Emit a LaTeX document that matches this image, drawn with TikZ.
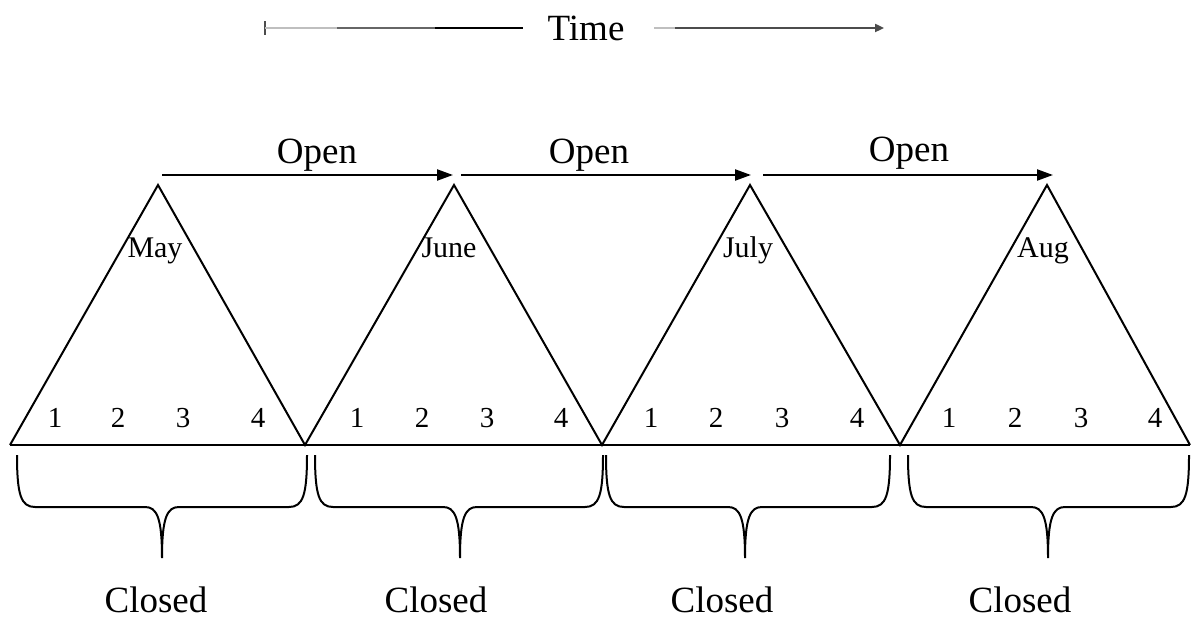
\documentclass[tikz,border=0pt]{standalone}
\usepackage{fontspec}
\setmainfont{Liberation Serif}
\usetikzlibrary{arrows.meta}
\begin{document}
\begin{tikzpicture}[x=1pt,y=-1pt,
  line/.style={line width=2pt},
  bracestyle/.style={line width=2pt},
  timeline/.style={line width=2.6pt},
  big/.style={font=\fontsize{37}{40}\selectfont, inner sep=0pt},
  small/.style={font=\fontsize{30}{32}\selectfont, inner sep=0pt},
  digit/.style={font=\fontsize{29}{32}\selectfont, inner sep=0pt},
  openarrow/.style={line width=2.2pt,-{Triangle[length=16pt,width=11pt]}},
]
\useasboundingbox (0,0) rectangle (1191,618);

% time axis
\coordinate (t0) at (265,28);
\coordinate (t1) at (337,28);
\coordinate (t2) at (435,28);
\coordinate (t3) at (523,28);
\coordinate (t4) at (654,28);
\coordinate (t5) at (675,28);
\coordinate (t6) at (884,28);
\node[big, anchor=base] (time) at (586,41) {Time};
\draw[line width=1.5pt, black!70] ([yshift=-7]t0) -- ([yshift=7]t0);
\draw[timeline, black!25] (t0) -- (t1);
\draw[timeline, black!60] (t1) -- (t2);
\draw[timeline, black] (t2) -- (t3);
\draw[timeline, black!25] (t4) -- (t5);
\draw[timeline, black!70, -{Triangle[length=9pt,width=8pt]}] (t5) -- (t6);

% base and apex points
\coordinate (b0) at (10,445);
\coordinate (b1) at (305,445);
\coordinate (b2) at (602,445);
\coordinate (b3) at (900,445);
\coordinate (b4) at (1190,445);
\coordinate (a1) at (158,185);
\coordinate (a2) at (454,185);
\coordinate (a3) at (750,185);
\coordinate (a4) at (1047,185);

\draw[line] (b0) -- (b4);
\draw[line] (b0) -- (a1) -- (b1) -- (a2) -- (b2) -- (a3) -- (b3) -- (a4) -- (b4);

% open arrows
\coordinate (o1s) at (162,175);
\coordinate (o1e) at (453,175);
\coordinate (o2s) at (461,175);
\coordinate (o2e) at (751,175);
\coordinate (o3s) at (763,175);
\coordinate (o3e) at (1053,175);
\draw[openarrow] (o1s) -- (o1e);
\draw[openarrow] (o2s) -- (o2e);
\draw[openarrow] (o3s) -- (o3e);
\node[big, anchor=base] (open1) at (317,163) {Open};
\node[big, anchor=base] (open2) at (589,163) {Open};
\node[big, anchor=base] (open3) at (909,161) {Open};

% months
\node[small, anchor=base] (may) at (155,257) {May};
\node[small, anchor=base] (jun) at (449,257) {June};
\node[small, anchor=base] (jul) at (748,257) {July};
\node[small, anchor=base] (aug) at (1043,257) {Aug};

% week numbers
\foreach \i/\x in {1/55,2/118,3/183,4/258,
                   1/357,2/422,3/487,4/561,
                   1/651,2/716,3/782,4/857,
                   1/949,2/1015,3/1081,4/1155}{
  \node[digit, anchor=base] (w\x) at (\x,427) {\i};
}

% braces
\foreach \L/\R/\T [count=\k] in {17/307/162, 315/603/460, 606/890/745, 908/1189/1048}{
  \draw[bracestyle] (\L,455) .. controls (\L,495) and (\L+4,507) .. (\L+18,507)
     -- (\T-17,507) .. controls (\T-5,507) and (\T,518) .. (\T,558)
     .. controls (\T,518) and (\T+5,507) .. (\T+17,507)
     -- (\R-18,507) .. controls (\R-4,507) and (\R,495) .. (\R,455);
}

% closed labels
\node[big, anchor=base] (c1) at (156,612) {Closed};
\node[big, anchor=base] (c2) at (436,612) {Closed};
\node[big, anchor=base] (c3) at (722,612) {Closed};
\node[big, anchor=base] (c4) at (1020,612) {Closed};
\end{tikzpicture}
\end{document}
